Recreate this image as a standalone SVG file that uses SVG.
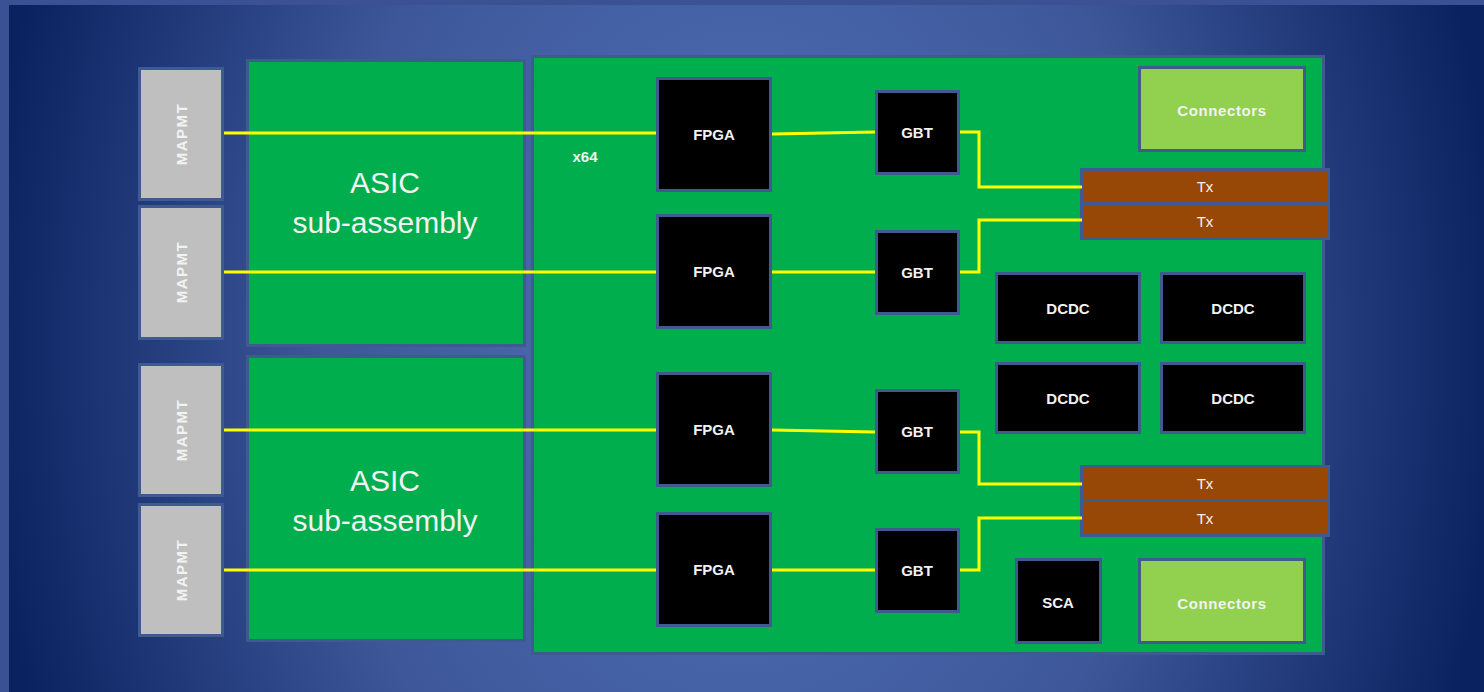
<svg xmlns="http://www.w3.org/2000/svg" width="1484" height="692" viewBox="0 0 1484 692">
<defs>
<radialGradient id="bg" gradientUnits="userSpaceOnUse" cx="742" cy="346" r="760" gradientTransform="translate(742 346) scale(1 1.35) translate(-742 -346)">
<stop offset="0" stop-color="#5373bb"/>
<stop offset="0.55" stop-color="#3d5799"/>
<stop offset="1" stop-color="#0b2260"/>
</radialGradient>
<style>
.box{stroke:#3f5a8f;stroke-width:3}
.mapmt{fill:#bfbfbf}
.green{fill:#00ae4e}
.chip{fill:#000000}
.conn{fill:#92d050}
.tx{fill:#974706}
.wire{fill:none;stroke:#ffff00;stroke-width:3}
text{font-family:"Liberation Sans",Arial,sans-serif;fill:#f2f2f2;text-anchor:middle;dominant-baseline:central}
.b{font-weight:bold;font-size:15px}
.big{font-size:30px}
.mt{font-weight:bold;font-size:15px;letter-spacing:1.5px}
</style>
</defs>
<rect x="0" y="0" width="1484" height="692" fill="#3a5293"/>
<rect x="9" y="5" width="1475" height="687" fill="url(#bg)"/>

<g id="mapmt1"><rect class="box mapmt" x="139.5" y="68.5" width="83" height="131"/><text class="mt" transform="translate(181 134) rotate(-90)">MAPMT</text></g>
<g id="mapmt2"><rect class="box mapmt" x="139.5" y="206.5" width="83" height="132"/><text class="mt" transform="translate(181 272) rotate(-90)">MAPMT</text></g>
<g id="mapmt3"><rect class="box mapmt" x="139.5" y="364.5" width="83" height="131"/><text class="mt" transform="translate(181 430) rotate(-90)">MAPMT</text></g>
<g id="mapmt4"><rect class="box mapmt" x="139.5" y="504.5" width="83" height="131"/><text class="mt" transform="translate(181 570) rotate(-90)">MAPMT</text></g>

<g id="asic1"><rect class="box green" x="247.5" y="60.5" width="277" height="285"/><text class="big" x="385" y="182">ASIC</text><text class="big" x="385" y="222">sub-assembly</text></g>
<g id="asic2"><rect class="box green" x="247.5" y="356.5" width="277" height="284"/><text class="big" x="385" y="480">ASIC</text><text class="big" x="385" y="520">sub-assembly</text></g>

<g id="board"><rect class="box green" x="532.5" y="56.5" width="791" height="597"/><text class="b" x="585" y="156">x64</text></g>

<g id="fpga1"><rect class="box chip" x="657.5" y="78.5" width="113" height="112"/><text class="b" x="714" y="134.5">FPGA</text></g>
<g id="fpga2"><rect class="box chip" x="657.5" y="215.5" width="113" height="112"/><text class="b" x="714" y="271.5">FPGA</text></g>
<g id="fpga3"><rect class="box chip" x="657.5" y="373.5" width="113" height="112"/><text class="b" x="714" y="429.5">FPGA</text></g>
<g id="fpga4"><rect class="box chip" x="657.5" y="513.5" width="113" height="112"/><text class="b" x="714" y="569.5">FPGA</text></g>

<g id="gbt1"><rect class="box chip" x="876.5" y="91.5" width="82" height="82"/><text class="b" x="917" y="132.5">GBT</text></g>
<g id="gbt2"><rect class="box chip" x="876.5" y="231.5" width="82" height="82"/><text class="b" x="917" y="272.5">GBT</text></g>
<g id="gbt3"><rect class="box chip" x="876.5" y="390.5" width="82" height="82"/><text class="b" x="917" y="431.5">GBT</text></g>
<g id="gbt4"><rect class="box chip" x="876.5" y="529.5" width="82" height="82"/><text class="b" x="917" y="570.5">GBT</text></g>

<g id="connectors1"><rect class="box conn" x="1139.5" y="67.5" width="165" height="83"/><text class="b" x="1222" y="110" letter-spacing="0.6">Connectors</text></g>
<g id="connectors2"><rect class="box conn" x="1139.5" y="559.5" width="165" height="83"/><text class="b" x="1222" y="603" letter-spacing="0.6">Connectors</text></g>

<g id="tx1"><rect class="box tx" x="1081.5" y="169.5" width="247" height="34"/><text x="1205" y="186.5" font-size="15">Tx</text></g>
<g id="tx2"><rect class="box tx" x="1081.5" y="203.5" width="247" height="35"/><text x="1205" y="221" font-size="15">Tx</text></g>
<g id="tx3"><rect class="box tx" x="1081.5" y="466.5" width="247" height="34"/><text x="1205" y="483.5" font-size="15">Tx</text></g>
<g id="tx4"><rect class="box tx" x="1081.5" y="500.5" width="247" height="35"/><text x="1205" y="518" font-size="15">Tx</text></g>

<g id="dcdc1"><rect class="box chip" x="996.5" y="273.5" width="143" height="69"/><text class="b" x="1068" y="308">DCDC</text></g>
<g id="dcdc2"><rect class="box chip" x="1161.5" y="273.5" width="143" height="69"/><text class="b" x="1233" y="308">DCDC</text></g>
<g id="dcdc3"><rect class="box chip" x="996.5" y="363.5" width="143" height="69"/><text class="b" x="1068" y="398">DCDC</text></g>
<g id="dcdc4"><rect class="box chip" x="1161.5" y="363.5" width="143" height="69"/><text class="b" x="1233" y="398">DCDC</text></g>

<g id="sca"><rect class="box chip" x="1016.5" y="559.5" width="84" height="83"/><text class="b" x="1058" y="602">SCA</text></g>

<g id="connectors">
<path class="wire" d="M224,133 H656"/>
<path class="wire" d="M772,134 L875,132"/>
<path class="wire" d="M960,132 H979 V187 H1082"/>
<path class="wire" d="M224,272 H656"/>
<path class="wire" d="M772,272 H875"/>
<path class="wire" d="M960,272 H979 V220 H1082"/>
<path class="wire" d="M224,430 H656"/>
<path class="wire" d="M772,430 L875,432"/>
<path class="wire" d="M960,432 H979 V484 H1082"/>
<path class="wire" d="M224,570 H656"/>
<path class="wire" d="M772,570 H875"/>
<path class="wire" d="M960,570 H979 V518 H1082"/>
</g>
</svg>
